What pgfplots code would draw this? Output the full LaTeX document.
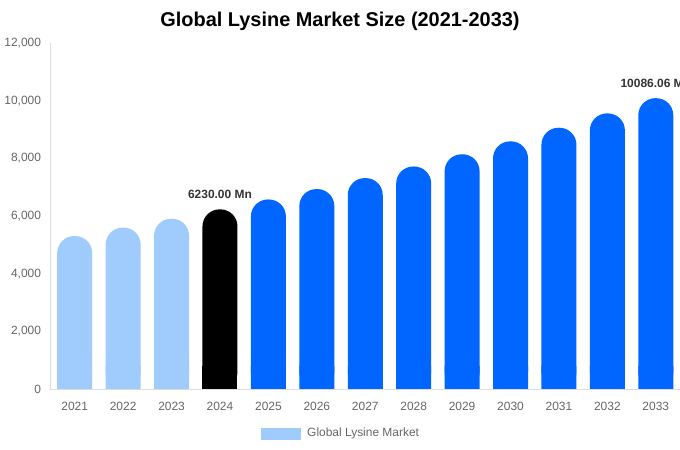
\documentclass[border=0pt]{standalone}
\usepackage{fontspec}
\setmainfont{Liberation Sans}
\usepackage{pgfplots}
\pgfplotsset{compat=1.18}
\definecolor{lightbar}{HTML}{A0CBFD}
\definecolor{bluebar}{HTML}{0066FF}
\definecolor{ticktext}{HTML}{666666}
\definecolor{axisline}{HTML}{DDDDDD}
\definecolor{labeltext}{HTML}{333333}
\begin{document}
\begin{tikzpicture}
\begin{axis}[
  at={(50.5bp,61bp)}, anchor=south west, scale only axis,
  width=629.5bp, height=346bp,
  xmin=-0.5, xmax=12.5, ymin=0, ymax=12000,
  clip=false,
  axis x line*=bottom, axis y line*=left,
  axis line style={axisline, line width=0.8bp},
  tick style={draw=none},
  xtick={0,1,...,12},
  xticklabels={2021,2022,2023,2024,2025,2026,2027,2028,2029,2030,2031,2032,2033},
  ytick={0,2000,4000,6000,8000,10000,12000},
  yticklabels={0,{2,000},{4,000},{6,000},{8,000},{10,000},{12,000}},
  scaled y ticks=false,
  ticklabel style={font=\fontsize{12}{14}\selectfont, text=ticktext},
  yticklabel style={xshift=-6bp},
  xticklabel style={yshift=-9.5bp},
  mybar/.style={ybar, bar width=35bp, bar shift=0pt, draw=none},
]
% rounded bars (top caps) and square bottoms
\addplot[mybar, fill=lightbar, rounded corners=17bp] coordinates {(0,5305) (1,5597) (2,5905)};
\addplot[mybar, fill=lightbar] coordinates {(0,800) (1,800) (2,800)};
\addplot[mybar, fill=black, rounded corners=17bp] coordinates {(3,6230)};
\addplot[mybar, fill=black] coordinates {(3,800)};
\addplot[mybar, fill=bluebar, rounded corners=17bp] coordinates {(4,6573) (5,6934) (6,7315) (7,7717) (8,8141) (9,8589) (10,9061) (11,9559) (12,10086.06)};
\addplot[mybar, fill=bluebar] coordinates {(4,800) (5,800) (6,800) (7,800) (8,800) (9,800) (10,800) (11,800) (12,800)};
\node[font=\bfseries\fontsize{12}{14}\selectfont, text=labeltext, anchor=south, inner sep=0pt, yshift=10.5bp] at (axis cs:3,6230) {6230.00 Mn};
\node[font=\bfseries\fontsize{12}{14}\selectfont, text=labeltext, anchor=south, inner sep=0pt, yshift=10.5bp] at (axis cs:12,10086.06) {10086.06 Mn};
\end{axis}
\node[font=\bfseries\fontsize{20}{24}\selectfont] at (340bp,429bp) {Global Lysine Market Size (2021-2033)};
\fill[lightbar] (261bp,10bp) rectangle (301bp,22bp);
\node[anchor=west, inner sep=0pt, font=\fontsize{12}{14}\selectfont, text=ticktext] at (307bp,17bp) {Global Lysine Market};
\pgfresetboundingbox
\useasboundingbox (0,0) rectangle (680bp,450bp);
\end{tikzpicture}
\end{document}
